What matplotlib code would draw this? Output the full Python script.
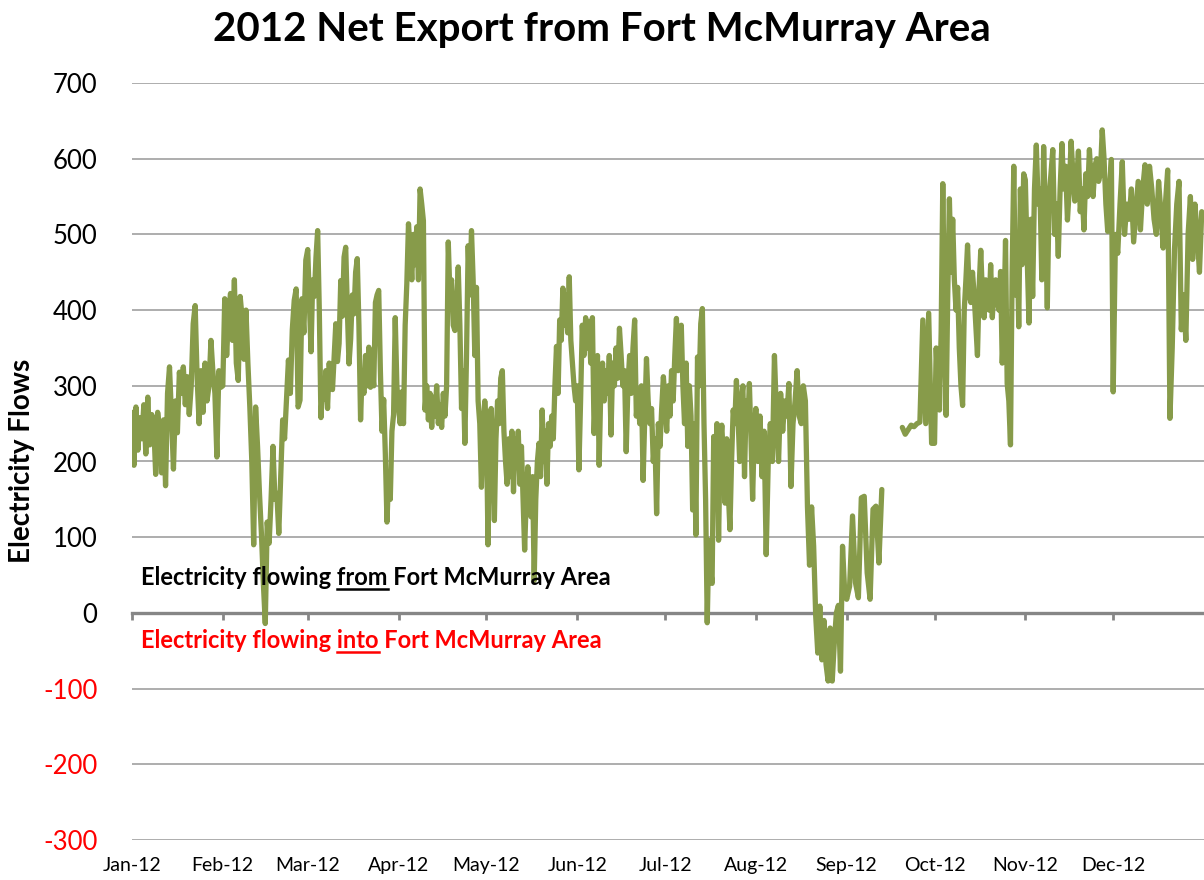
import numpy as np
import pandas as pd
import matplotlib
matplotlib.use("Agg")
import matplotlib.pyplot as plt
from matplotlib.lines import Line2D

plt.rcParams['font.family'] = ['Lato', 'DejaVu Sans']

# net export (MW), one list per month of 2012
jan = [265, 195, 272, 215, 258, 230, 275, 210, 285, 222, 262, 250, 183, 265, 240, 185,
       255, 168, 290, 325, 260, 190, 280, 238, 318, 290, 325, 275, 312, 262, 300, 382,
       406, 310, 250, 320, 265, 330, 280, 300, 360, 318, 290, 206, 320, 298]
feb = [300, 415, 340, 395, 422, 360, 440, 330, 307, 418, 390, 335, 400, 330, 272, 202,
       90, 272, 220, 158, 105, 40, -14, 120, 92, 150, 220, 150, 158, 105, 180, 255,
       230, 281, 334, 290, 374, 413, 428, 272, 281, 415, 370, 466]
mar = [480, 410, 345, 440, 418, 470, 505, 400, 258, 300, 282, 320, 270, 330, 300, 295,
       340, 382, 332, 356, 439, 392, 470, 483, 400, 329, 362, 420, 395, 450, 468, 380,
       255, 320, 290, 340, 300, 351, 298, 322, 300, 410, 420, 426, 320, 240, 282, 210,
       120, 182, 150, 240, 262, 390, 300]
apr = [270, 250, 292, 250, 380, 435, 514, 480, 440, 500, 460, 510, 440, 560, 540, 518,
       268, 300, 255, 290, 245, 285, 260, 300, 250, 275, 245, 290, 260, 300, 490, 420,
       440, 380, 373, 400, 457, 380, 270, 320, 224, 340, 485, 420, 505, 440, 340, 430,
       280, 250, 166, 240, 280]
may = [250, 90, 240, 270, 200, 122, 230, 280, 250, 310, 320, 240, 200, 170, 230, 180,
       240, 160, 230, 200, 240, 170, 220, 150, 83, 150, 193, 150, 127, 180, 43, 150,
       200, 224, 180, 268, 200, 240, 170, 250, 220, 260, 230, 300, 352, 290, 387, 360,
       429, 380, 420, 370, 444, 360, 330, 300, 280]
jun = [300, 189, 280, 380, 340, 390, 350, 385, 330, 390, 237, 300, 340, 195, 300, 330,
       280, 320, 290, 340, 235, 330, 300, 350, 310, 376, 340, 300, 320, 213, 300, 340,
       290, 350, 387, 260, 290, 250, 300, 175, 260, 336, 280, 250, 270, 200, 230, 131,
       250, 220, 270, 312]
jul = [280, 240, 300, 260, 320, 280, 340, 389, 320, 350, 380, 300, 250, 330, 220, 300,
       260, 136, 250, 103, 338, 300, 382, 402, 250, 150, -13, 96, 60, 39, 233, 180,
       250, 96, 220, 248, 200, 145, 230, 160, 110, 200, 268, 250, 307, 260, 200, 280,
       300, 180, 280, 250, 303, 230, 150, 240]
aug = [270, 200, 260, 180, 240, 77, 200, 250, 200, 340, 260, 200, 290, 240, 280, 260,
       303, 167, 250, 280, 320, 260, 250, 300, 280, 140, 63, 140, 88, -4, -53, 9,
       -62, -10, -68, -90, -20, -90, -40, 0, 10, -77, 88, 30]
sep = [18, 35, 128, 40, 20, 152, 154, 53, 18, 137, 141, 66, 163,
       np.nan, np.nan, np.nan, np.nan, np.nan, np.nan,
       245, 236, 242, 248, 246, 250, 252, 387, 250, 396, 224]
oct_ = [224, 350, 300, 268, 370, 567, 400, 261, 420, 547, 450, 520, 440, 400, 430, 350,
        300, 274, 400, 440, 486, 420, 410, 450, 420, 380, 340, 430, 479, 420, 390, 440,
        420, 400, 460, 390, 430, 440, 410, 400, 451, 330, 380, 492, 303, 280, 222, 450,
        590, 420, 500, 378, 560, 460, 580]
nov = [572, 470, 383, 520, 418, 560, 618, 540, 560, 440, 616, 520, 403, 550, 580, 612,
       500, 540, 471, 560, 620, 560, 590, 519, 560, 623, 580, 544, 570, 610, 530, 560,
       506, 580, 550, 612, 570, 550, 590, 600, 570, 580, 638, 600, 540, 504, 560, 599]
dec = [292, 500, 475, 540, 596, 500, 540, 520, 560, 490, 530, 570, 506, 560, 592, 540,
       590, 560, 520, 500, 570, 530, 482, 540, 585, 257, 350, 480, 540, 570, 374, 420,
       360, 500, 550, 467, 540, 500, 450, 530]

months = [jan, feb, mar, apr, may, jun, jul, aug, sep, oct_, nov, dec]
month_labels = ['Jan-12', 'Feb-12', 'Mar-12', 'Apr-12', 'May-12', 'Jun-12',
                'Jul-12', 'Aug-12', 'Sep-12', 'Oct-12', 'Nov-12', 'Dec-12']
ytick_vals = [-300, -200, -100, 0, 100, 200, 300, 400, 500, 600, 700]

# spread each month's readings over the days of that month
xs, ys = [], []
for m, vals in enumerate(months, start=1):
    start = pd.Timestamp(2012, m, 1)
    step = start.days_in_month / len(vals)
    xs.append(start + pd.to_timedelta(np.arange(len(vals)) * step, unit='D'))
    ys.append(np.array(vals, dtype=float))
x = np.concatenate([np.asarray(a) for a in xs])
y = np.concatenate(ys)

fig = plt.figure(figsize=(12.04, 8.8), dpi=100)
ax = fig.add_axes([132 / 1204, 40 / 880, 1 - 132 / 1204, 757 / 880])

ax.plot(x, y, color='#879B4A', lw=3.8, solid_joinstyle='round', solid_capstyle='round')

ax.set_ylim(-300, 700)
ax.set_xlim(pd.Timestamp('2012-01-01'), pd.Timestamp('2013-01-01'))
ax.set_yticks(ytick_vals)
ax.set_yticklabels([str(v) for v in ytick_vals])
ax.yaxis.grid(True, color='#A0A0A0', lw=1.2)
ax.set_axisbelow(True)
ax.tick_params(axis='y', length=0, pad=25, labelsize=18.5)
for lbl, v in zip(ax.get_yticklabels(), ytick_vals):
    lbl.set_color('red' if v < 0 else 'black')

month_starts = [pd.Timestamp(2012, m, 1) for m in range(1, 13)]
ax.set_xticks(month_starts)
ax.tick_params(axis='x', direction='out', length=5, width=2, color='#868686',
               labelbottom=False)
for d, lab in zip(month_starts, month_labels):
    ax.text(d, -0.034, lab, transform=ax.get_xaxis_transform(), ha='center', va='center',
            fontsize=14)

for s in ['top', 'right', 'left']:
    ax.spines[s].set_visible(False)
ax.spines['bottom'].set_position(('data', 0))
ax.spines['bottom'].set_color('#868686')
ax.spines['bottom'].set_linewidth(2.4)
ax.spines['bottom'].set_zorder(1.5)

fig.text(0.5, 1 - 30 / 880, '2012 Net Export from Fort McMurray Area', ha='center',
         va='center', fontsize=29, fontweight='bold')
fig.text(22 / 1204, 1 - 461 / 880, 'Electricity Flows', rotation=90, ha='center',
         va='center', fontsize=20, fontweight='bold')

# annotations with one underlined word
tr = ax.get_yaxis_transform()
fig.canvas.draw()
renderer = fig.canvas.get_renderer()


def width_px(s, **kw):
    t = fig.text(0, 0, s, **kw)
    w = t.get_window_extent(renderer).width
    t.remove()
    return w


def note(prefix, word, suffix, yval, color):
    kw = dict(fontsize=17, fontweight='bold')
    x0 = 141 - 132
    t = ax.text(x0 / 1072, yval, prefix + ' ' + word + ' ' + suffix, transform=tr,
                ha='left', va='baseline', color=color, **kw)
    bb = t.get_window_extent(renderer)
    sp = width_px('x x', **kw) - width_px('xx', **kw)
    a = bb.x0 + width_px(prefix, **kw) + sp
    b = bb.x0 + width_px(prefix + ' ' + word, **kw)
    _, ybase = ax.transData.transform((0, yval))
    yline = (ybase - 4) / fig.bbox.height
    fig.add_artist(Line2D([a / fig.bbox.width, b / fig.bbox.width], [yline, yline],
                          color=color, lw=1.8))


note('Electricity flowing', 'from', 'Fort McMurray Area', 37, 'black')
note('Electricity flowing', 'into', 'Fort McMurray Area', -46, 'red')

fig.savefig('out.png', dpi=100)
